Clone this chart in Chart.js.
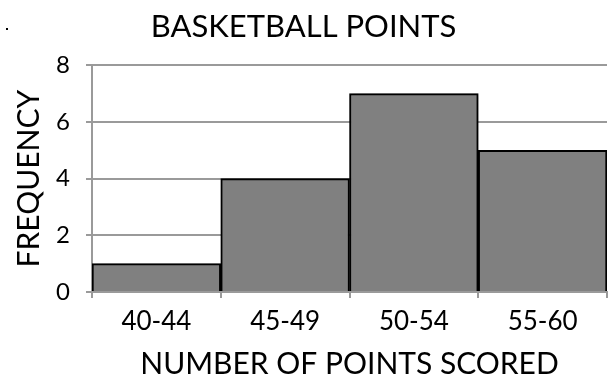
<!DOCTYPE html>
<html>
<head>
<meta charset="utf-8">
<script src="https://cdn.jsdelivr.net/npm/chart.js@4.4.1/dist/chart.umd.min.js"></script>
<style>
    html, body { margin: 0; padding: 0; background: #ffffff; }
    #wrap { width: 611px; height: 379px; }
</style>
</head>
<body>
<div id="wrap"><canvas id="histChart" width="611" height="379"></canvas></div>
<script>
"use strict";

const categories = ["40-44", "45-49", "50-54", "55-60"];

const frequencies = [1, 4, 7, 5];

const yTicks = [0, 2, 4, 6, 8];

const FONT = "Lato, 'DejaVu Sans', sans-serif";

const HistogramController = {

    initialize() {

        this.renderChart();
    },

    renderChart() {

        if (typeof Chart === "undefined") {

            console.error("Chart.js not loaded.");

            return;
        }

        const canvas = document.getElementById("histChart");

        // soft shadow to the right of the bars, like the original
        const barShadow = {
            id: "barShadow",
            beforeDatasetsDraw(chart) {
                const ctx = chart.ctx;
                ctx.save();
                ctx.shadowColor = "rgba(0,0,0,0.18)";
                ctx.shadowBlur = 4;
                ctx.shadowOffsetX = 3;
                ctx.shadowOffsetY = 0;
            },
            afterDatasetsDraw(chart) {
                chart.ctx.restore();
            }
        };

        // the stray dot in the top left corner of the picture
        const strayDot = {
            id: "strayDot",
            afterDraw(chart) {
                const ctx = chart.ctx;
                ctx.save();
                ctx.fillStyle = "#000000";
                ctx.fillRect(6, 28, 2, 2);
                ctx.restore();
            }
        };

        new Chart(canvas, {

            type: "bar",

            data: {
                labels: categories,
                datasets: [
                    {
                        label: "Frequency",
                        data: frequencies,
                        backgroundColor: "#808080",
                        borderColor: "#000000",
                        borderWidth: 2,
                        categoryPercentage: 1.0,
                        barPercentage: 1.0
                    }
                ]
            },

            options: {

                responsive: false,

                animation: false,

                layout: {
                    padding: { left: 0, right: 4, top: 0, bottom: 0 }
                },

                plugins: {

                    legend: { display: false },

                    tooltip: { enabled: false },

                    title: {
                        display: true,
                        text: "BASKETBALL POINTS",
                        color: "#000000",
                        font: { family: FONT, size: 31, weight: "normal" },
                        padding: { top: 8, bottom: 20 }
                    }
                },

                scales: {

                    x: {
                        offset: true,
                        border: { color: "#9a9a9a", width: 2 },
                        grid: {
                            offset: true,
                            drawOnChartArea: false,
                            drawTicks: true,
                            tickLength: 6,
                            color: "#9a9a9a",
                            lineWidth: 2
                        },
                        ticks: {
                            color: "#000000",
                            padding: 8,
                            font: { family: FONT, size: 26 }
                        },
                        title: {
                            display: true,
                            text: "NUMBER OF POINTS SCORED",
                            color: "#000000",
                            font: { family: FONT, size: 30, lineHeight: 1.0 },
                            padding: { top: 0, bottom: 0 }
                        },
                        afterFit(scale) {
                            scale.height = 87;
                        }
                    },

                    y: {
                        min: 0,
                        max: 8,
                        afterBuildTicks(scale) {
                            scale.ticks = yTicks.map(v => ({ value: v }));
                        },
                        border: { color: "#9a9a9a", width: 2 },
                        grid: {
                            color: "#9a9a9a",
                            lineWidth: 2,
                            tickLength: 6
                        },
                        ticks: {
                            color: "#000000",
                            padding: 16,
                            font: { family: FONT, size: 24 }
                        },
                        title: {
                            display: true,
                            text: "FREQUENCY",
                            color: "#000000",
                            font: { family: FONT, size: 30 },
                            padding: { top: 11, bottom: 0 }
                        },
                        afterFit(scale) {
                            scale.width = 92;
                        }
                    }
                }
            },

            plugins: [barShadow, strayDot]
        });
    }
};

document.addEventListener("DOMContentLoaded", () => {

    try {

        HistogramController.initialize();

    } catch (error) {

        console.error("Chart initialization failed", error);
    }
});
</script>
</body>
</html>
